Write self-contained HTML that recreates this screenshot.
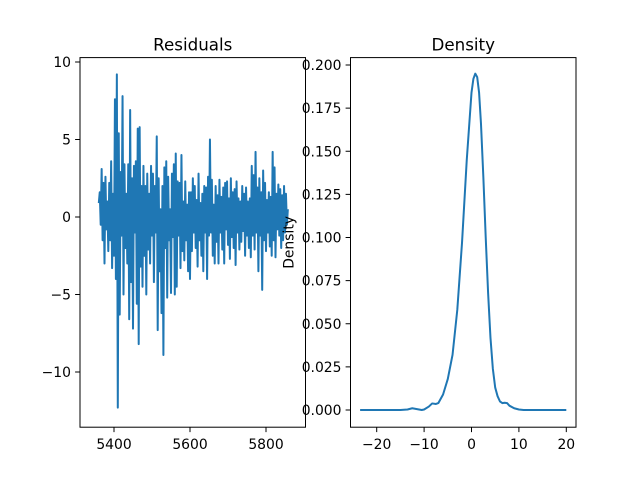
<!DOCTYPE html>
<html><head><meta charset="utf-8"><style>
body{margin:0;background:#fff}
svg{display:block;font-family:"DejaVu Sans","Liberation Sans",sans-serif}
</style></head><body>
<svg id="fig" width="640" height="480">
<rect width="640" height="480" fill="#fff"/>
<g id="left"></g>
<g id="right"></g>
</svg>
<script>
// Residuals data
const resStartX = 5360;
const resStepX = 2.5;
const resValues = [
0.9,1.6,-0.5,3.1,-1.5,2.2,-3.0,2.6,-0.8,1.0,-2.2,2.2,-1.5,3.6,-3.3,1.5,-2.5,7.6,-4.0,9.2,
-12.3,5.4,-6.3,2.9,-1.2,7.8,-5.0,3.4,-2.0,1.5,-3.0,3.4,-6.6,6.9,-4.2,2.5,-7.2,3.3,-1.0,3.6,
-5.6,5.7,-8.2,5.8,-3.2,2.0,-4.5,3.3,-2.5,2.0,-5.0,2.8,-2.1,1.5,-3.0,3.3,-1.2,2.8,-4.2,2.0,
-1.0,5.2,-7.3,2.5,-3.5,0.5,-6.2,2.0,-8.9,3.2,-2.0,3.6,-5.2,2.6,-1.5,0.5,-4.9,2.8,-1.3,3.4,
-5.0,4.1,-4.5,2.3,-1.2,2.2,-3.3,4.0,-2.2,1.0,-2.8,2.3,-1.5,0.8,-3.5,1.6,-4.0,1.6,-2.2,2.5,
-1.0,2.0,-2.0,1.1,-3.2,2.8,-1.5,0.9,-2.5,1.5,-3.5,2.0,-1.0,1.9,-4.0,2.6,-1.2,5.0,-1.0,2.4,
-2.5,0.8,-3.0,2.0,-1.6,1.4,-3.0,2.4,-1.0,1.3,-2.1,1.9,-3.0,2.2,-0.8,2.3,-1.8,1.2,-2.7,2.5,
-1.3,1.6,-2.0,1.8,-3.1,2.3,-1.0,1.2,-2.1,1.0,-1.6,2.0,-0.9,1.5,-2.5,1.9,-1.2,1.0,-2.0,1.2,
-2.6,3.3,-1.2,2.7,-2.1,4.2,-1.0,1.9,-3.5,2.5,-1.2,1.6,-4.7,3.0,-1.5,2.2,-2.2,1.1,-1.0,1.6,
-1.9,1.3,-2.5,4.2,-1.5,3.2,-2.6,1.5,-0.8,2.1,-1.2,1.8,-2.0,1.4,-1.5,2.0,-1.0,1.5,-0.5,0.5];
const resXTicks = [5400,5600,5800];
const resYTicks = [10,5,0,-5,-10];
// Density data
const denX = [-23.5,-15,-13.5,-12.5,-11.5,-10.5,-10,-9,-8.3,-7.5,-7,-6,-5,-4,-3,-2,-1,0,0.4,0.8,1.2,1.6,2,2.5,3,3.5,4,4.5,5,5.5,6,6.5,7,7.5,8,9,10,11,12,20];
const denY = [0,0,0.0003,0.001,0.0005,0,0.0003,0.002,0.0038,0.0035,0.004,0.009,0.018,0.032,0.058,0.097,0.145,0.184,0.192,0.195,0.193,0.184,0.166,0.135,0.1,0.068,0.042,0.024,0.013,0.008,0.005,0.004,0.0042,0.004,0.0025,0.001,0.0003,0,0,0];
const denXTicks = [-20,-10,0,10,20];
const denYTicks = ["0.000","0.025","0.050","0.075","0.100","0.125","0.150","0.175","0.200"];

const NS="http://www.w3.org/2000/svg";
function mk(parent,tag,attrs,text){const e=document.createElementNS(NS,tag);for(const k in attrs)e.setAttribute(k,attrs[k]);if(text!==undefined)e.textContent=text;parent.appendChild(e);return e;}
function lin(d0,d1,r0,r1){return v=>r0+(v-d0)*(r1-r0)/(d1-d0);}

function panel(g,L,R,T,B,xs,ys,xticks,yticks,title,ptsX,ptsY,ylabel){
  let t;
  t=mk(g,'text',{x:(L+R)/2,y:T-7,'text-anchor':'middle','font-size':'16.7',fill:'#000'},title);
  
  
  let d='';
  for(let i=0;i<ptsX.length;i++)d+=(i?'L':'M')+xs(ptsX[i]).toFixed(2)+','+ys(ptsY[i]).toFixed(2);
  const p=mk(g,'path',{d:d,fill:'none',stroke:'#1f77b4','stroke-width':'2','stroke-linejoin':'round'});
  
  
  const fr=mk(g,'rect',{x:L,y:T,width:R-L,height:B-T,fill:'none',stroke:'#000','stroke-width':'1'});
  
  
  xticks.forEach(v=>{const x=xs(v);
    mk(g,'line',{x1:x,x2:x,y1:B,y2:B+4.9,stroke:'#000','stroke-width':'1'});
    const tt=mk(g,'text',{x:x,y:B+22,'text-anchor':'middle','font-size':'13.9',fill:'#000'},String(v).replace('-','\u2212'));
    
    
  });
  yticks.forEach(s=>{const v=parseFloat(s);const y=ys(v);
    mk(g,'line',{x1:L-4.9,x2:L,y1:y,y2:y,stroke:'#000','stroke-width':'1'});
    const tt=mk(g,'text',{x:L-9,y:y+5,'text-anchor':'end','font-size':'13.9',fill:'#000'},String(s).replace('-','\u2212'));
    
    
  });
  if(ylabel){
    const yl=mk(g,'text',{x:0,y:0,'text-anchor':'middle','font-size':'13.9',fill:'#000',transform:`translate(${L-57},${(T+B)/2}) rotate(-90)`},ylabel);
    
    
  }
}
const resX=resValues.map((_,i)=>resStartX+i*resStepX);
panel(document.getElementById('left'),80,305.5,57.6,427.2,
  lin(5400,5800,114,266),lin(0,10,217,62),resXTicks,resYTicks,'Residuals',resX,resValues,null);
panel(document.getElementById('right'),350.5,576,57.6,427.2,
  lin(-20,20,376.7,566.3),lin(0,0.2,410,65),denXTicks,denYTicks,'Density',denX,denY,'Density');
</script>
</body></html>
